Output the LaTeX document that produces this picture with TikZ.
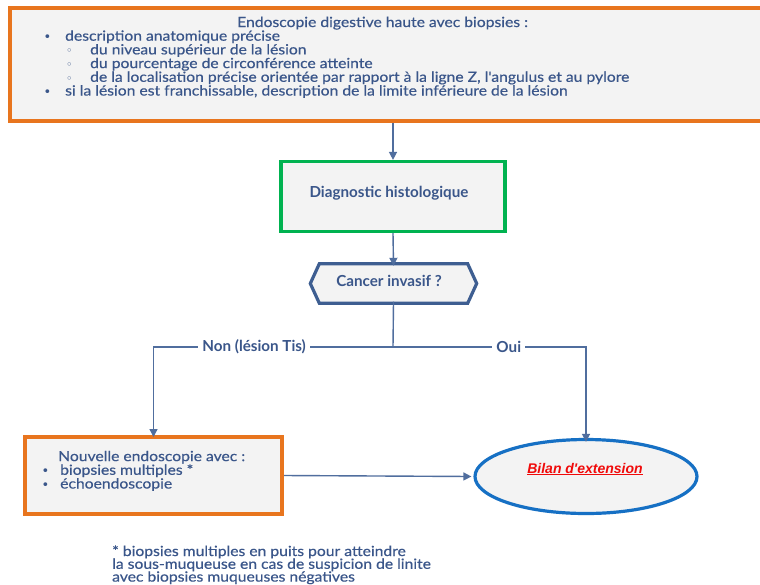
\documentclass[tikz,border=0pt]{standalone}
\usepackage{fontspec}
\setmainfont{Lato}
\newfontfamily\bodyf[FakeStretch=1.12, FakeBold=0.5]{Lato}
\newfontfamily\boldf{Lato}
\newfontfamily\italf{Liberation Sans}
\newfontfamily\symf{DejaVu Sans}
\usetikzlibrary{shapes.geometric,arrows.meta}
\definecolor{txtblue}{RGB}{58,86,138}
\definecolor{lineblue}{RGB}{80,110,158}
\definecolor{hexblue}{RGB}{62,94,145}
\definecolor{orangeb}{RGB}{232,117,30}
\definecolor{greenb}{RGB}{0,178,80}
\definecolor{ellblue}{RGB}{22,112,196}
\definecolor{boxfill}{RGB}{243,243,243}
\definecolor{redt}{RGB}{240,10,10}
\newcommand\mybul[1]{\makebox[#1][l]{\hspace*{-1.5pt}\symf\fontsize{13}{13}\selectfont\raisebox{-0.5pt}{•}}}
\newcommand\mysub[1]{\makebox[#1][l]{\hspace*{-1pt}\symf\fontsize{11}{11}\selectfont\raisebox{-0.5pt}{◦}}}
\begin{document}
\begin{tikzpicture}[x=1pt,y=-1pt,
  body/.style={font=\bodyf\fontsize{14}{13.7}\selectfont, text=txtblue, anchor=base west, inner sep=0pt, align=left},
  bold/.style={font=\boldf\bfseries\fontsize{15.2}{15.2}\selectfont, text=txtblue, inner sep=0pt},
  orangebox/.style={draw=orangeb, line width=4pt, fill=boxfill, rectangle, inner sep=0pt},
  conn/.style={draw=lineblue, line width=1.4pt},
  arr/.style={conn, -{Triangle[width=8pt,length=8pt]}},
  lbl/.style={bold, fill=white, inner xsep=4pt, inner ysep=2pt}
]
\useasboundingbox (0,0) rectangle (760,584);
\fill[white] (0,0) rectangle (760,584);

% top box
\node[orangebox, minimum width=770pt, minimum height=112.5pt] (top) at (394.5,64.25) {};
% anchor base west = baseline of the last line
\node[body] (toptext) at (45,95.5) {\hspace*{192pt}Endoscopie digestive haute avec biopsies :\\
\mybul{20pt}description anatomique précise\\
\hspace*{22pt}\mysub{23pt}du niveau supérieur de la lésion\\
\hspace*{22pt}\mysub{23pt}du pourcentage de circonférence atteinte\\
\hspace*{22pt}\mysub{23pt}de la localisation précise orientée par rapport à la ligne Z, l'angulus et au pylore\\
\mybul{20pt}si la lésion est franchissable, description de la limite inférieure de la lésion};

% diagnostic box
\node[draw=greenb, line width=3.2pt, fill=boxfill, minimum width=224pt, minimum height=70pt, inner sep=0pt] (diag) at (393,196.5) {};
\node[bold] (diagt) at (389,193) {Diagnostic histologique};

% hexagon
\node[minimum width=166pt, minimum height=39pt, inner sep=0pt] (hex) at (393.5,283.5) {};
\filldraw[draw=hexblue, fill=boxfill, line width=3.2pt, line join=miter]
  (hex.west) -- ([xshift=9pt]hex.north west) -- ([xshift=-9pt]hex.north east)
  -- (hex.east) -- ([xshift=-9pt]hex.south east) -- ([xshift=9pt]hex.south west) -- cycle;
\node[bold] (hext) at (389,281) {Cancer invasif ?};

% box 2
\node[orangebox, minimum width=257pt, minimum height=77pt] (box2) at (153.5,475.5) {};
\node[body] (box2text) at (43,488.5) {\hspace*{15pt}Nouvelle endoscopie avec :\\
\mybul{17pt}biopsies multiples *\\
\mybul{17pt}échoendoscopie};

% ellipse
\node[ellipse, draw=ellblue, line width=3.2pt, fill=boxfill, minimum width=222pt, minimum height=74pt, inner sep=0pt] (ell) at (586,476.5) {};
\node[font=\italf\bfseries\itshape\fontsize{14}{14}\selectfont, text=redt, inner sep=0pt] (ellt) at (585,469) {\underline{Bilan d'extension}};

% footnote
\node[body, font=\bodyf\fontsize{14}{12.8}\selectfont] (foot) at (112,581.6) {* biopsies multiples en puits pour atteindre\\
la sous-muqueuse en cas de suspicion de linite\\
avec biopsies muqueuses négatives};

% connectors
\coordinate (j) at (393,347);
\draw[arr] (diag.north |- top.south) -- (diag.north);
\draw[arr] (diag.south) -- ([yshift=-2pt]hex.north);
\draw[conn] ([yshift=1.6pt]hex.south) -- (j);
\draw[arr] (j) -| node[lbl, pos=0.29] (non) {Non (lésion Tis)} ([yshift=-2pt]box2.north);
\draw[arr] (j) -| node[lbl, pos=0.3] (oui) {Oui} ([yshift=-4pt]ell.north);
\draw[arr] (box2.east) -- ([xshift=-2pt]ell.west);
\end{tikzpicture}
\end{document}
